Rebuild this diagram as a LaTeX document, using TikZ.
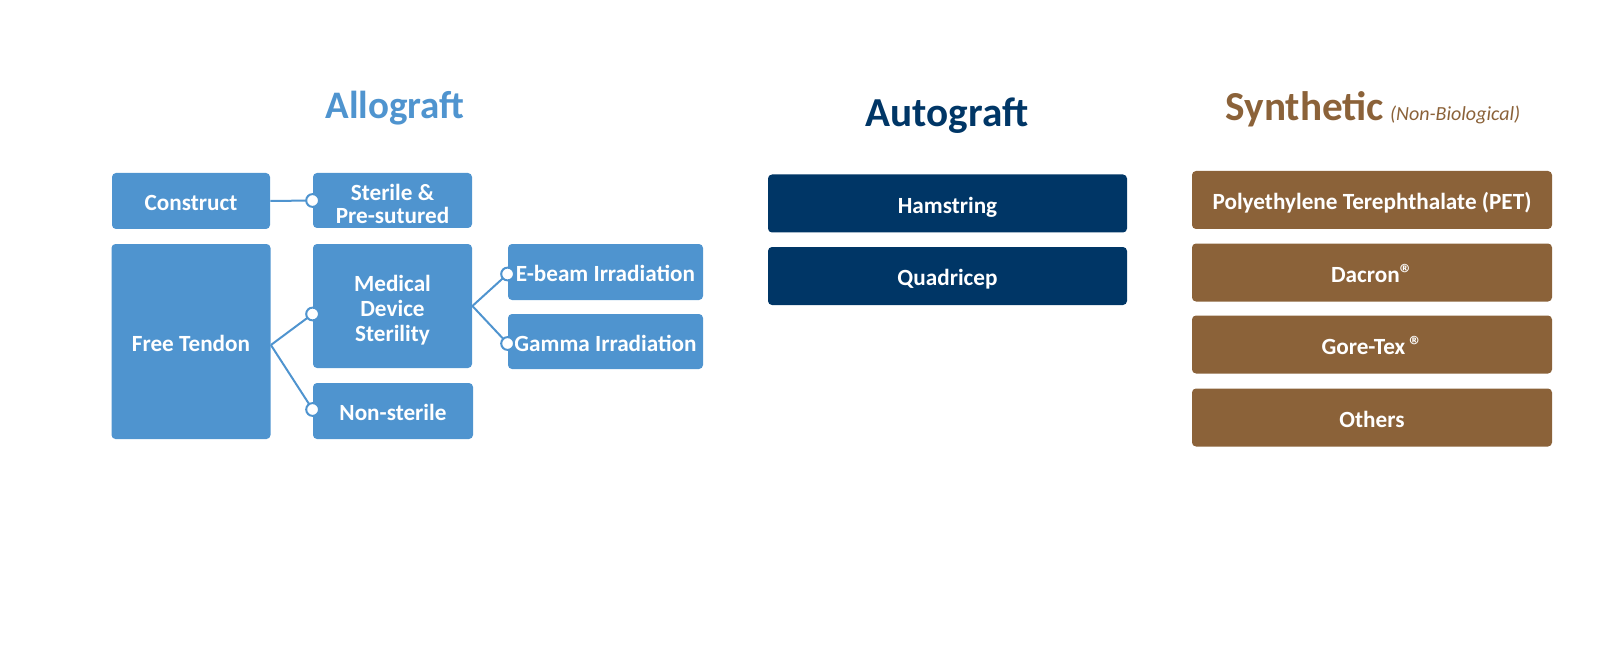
\documentclass[tikz,border=0pt]{standalone}
\usepackage{fontspec}
\setmainfont{Carlito}
\usepackage{tikz}
\usetikzlibrary{calc}

\definecolor{alloblue}{RGB}{79,148,207}
\definecolor{autonavy}{RGB}{0,54,102}
\definecolor{synbrown}{RGB}{139,98,57}

\newcommand{\regmark}{{\fontsize{13}{13}\selectfont\textregistered}}
\newcommand{\topstrut}{\rule{0pt}{12pt}}

\begin{document}
\begin{tikzpicture}[x=0.5pt, y=-0.5pt,
    every node/.style={inner sep=0pt, align=center},
    gbox/.style={rounded corners=2pt, text=white,
        font=\bfseries\fontsize{11.6}{12.5}\selectfont},
    oneline/.style={text height=0.98em, text depth=0pt},
    allo/.style={gbox, fill=alloblue},
    auto/.style={gbox, oneline, fill=autonavy, minimum width=179.5pt, minimum height=29pt},
    syn/.style={gbox, oneline, fill=synbrown, minimum width=180pt, minimum height=29pt},
    link/.style={draw=alloblue, line width=1pt},
    knob/.style={draw=alloblue, fill=white, line width=1pt}]
    \useasboundingbox (0,0) rectangle (1624,647);

    % titles
    \node[anchor=base, text=alloblue, font=\bfseries\fontsize{19.5}{20}\selectfont] (allotitle) at (395,119) {Allograft};
    \node[anchor=base, text=autonavy, font=\bfseries\fontsize{20.6}{22}\selectfont] (autotitle) at (947,127) {Autograft};
    \node[anchor=base, text=synbrown, font=\bfseries\fontsize{20.6}{21}\selectfont] (syntitle) at (1373,121)
        {Synthetic\hspace{3pt}{\mdseries\itshape\fontsize{10}{10}\selectfont (Non-Biological)}};

    % allograft
    \node[allo, oneline, minimum width=79pt, minimum height=28pt] (construct) at (191,201) {Construct};
    \node[allo, minimum width=79.5pt, minimum height=27.5pt] (sterile) at (392.5,200.5) {\topstrut Sterile \&\\[-1pt]Pre-sutured};
    \node[allo, oneline, minimum width=79.5pt, minimum height=97.5pt] (free) at (191,341.5) {Free Tendon};
    \node[allo, minimum width=79.5pt, minimum height=62pt] (medical) at (392.5,306) {\topstrut Medical\\Device\\Sterility};
    \node[allo, oneline, minimum width=80pt, minimum height=28pt] (nonsterile) at (393,411) {Non-sterile};
    \node[allo, oneline, minimum width=97.5pt, minimum height=28pt] (ebeam) at (605.5,272) {E-beam Irradiation};
    \node[allo, oneline, minimum width=97.5pt, minimum height=27.5pt] (gamma) at (605.5,341.5) {Gamma Irradiation};

    % autograft
    \node[auto] (hamstring) at (947.5,203.5) {Hamstring};
    \node[auto] (quadricep) at (947.5,276) {Quadricep};

    % synthetic
    \node[syn] (pet) at (1372,200) {Polyethylene Terephthalate (PET)};
    \node[syn] (dacron) at (1372,272.5) {Dacron\regmark};
    \node[syn] (goretex) at (1372,344.5) {Gore-Tex\,\regmark};
    \node[syn] (others) at (1372,417.5) {Others};

    % branch points
    \coordinate (freeB) at ($(free.east)+(0,3.5)$);
    \coordinate (medB) at ($(medical.east)$);
    \coordinate (medK) at ($(medical.west)+(0,8)$);
    \coordinate (nonK) at ($(nonsterile.west)+(0,-1.5)$);
    \coordinate (sterK) at (sterile.west);
    \coordinate (ebK) at ($(ebeam.west)+(0,2)$);
    \coordinate (gaK) at ($(gamma.west)+(0,2)$);

    \draw[link] (construct.east) -- (sterK);
    \draw[link] (freeB) -- (medK);
    \draw[link] (freeB) -- (nonK);
    \draw[link] (medB) -- (ebK);
    \draw[link] (medB) -- (gaK);

    \foreach \pt in {sterK,medK,nonK,ebK,gaK}
        \filldraw[knob] (\pt) circle (3.2pt);
\end{tikzpicture}
\end{document}
